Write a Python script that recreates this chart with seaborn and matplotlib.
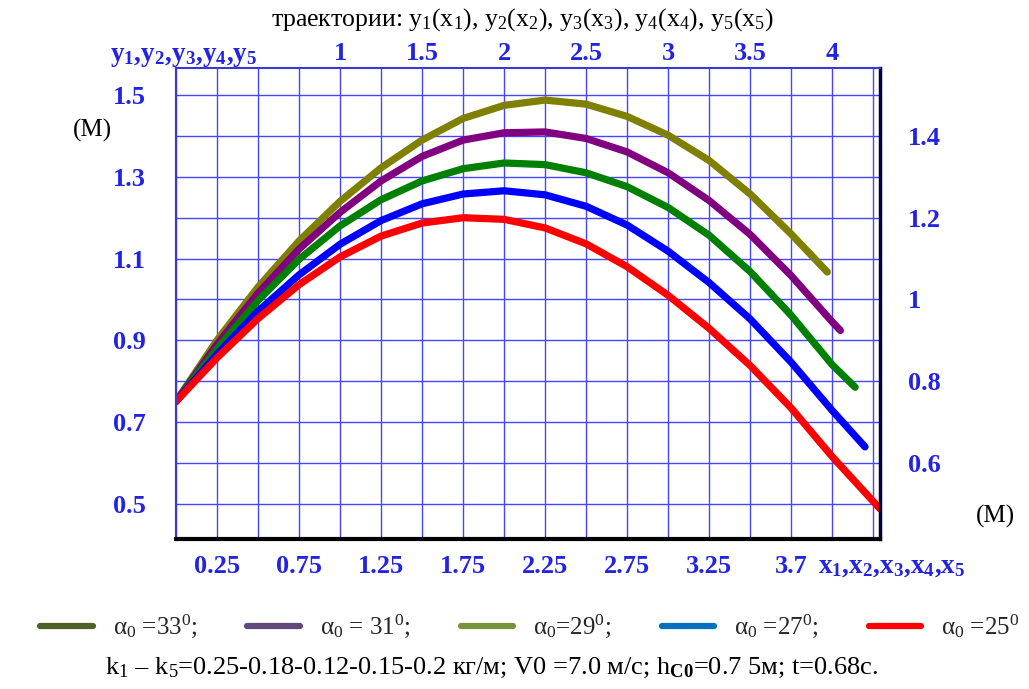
import numpy as np
import pandas as pd
import matplotlib
matplotlib.use('Agg')
import matplotlib.pyplot as plt
import seaborn as sns
from matplotlib.lines import Line2D

# trajectories (x in m, y in m)
x_33 = [0, 0.25, 0.5, 0.75, 1.0, 1.25, 1.5, 1.75, 2.0, 2.25, 2.5, 2.75, 3.0, 3.25, 3.5, 3.75, 3.97]
y_33 = [0.75, 0.900, 1.030, 1.143, 1.240, 1.322, 1.390, 1.443, 1.475, 1.488, 1.478, 1.448, 1.402, 1.340, 1.258, 1.160, 1.067]

x_31 = [0, 0.25, 0.5, 0.75, 1.0, 1.25, 1.5, 1.75, 2.0, 2.25, 2.5, 2.75, 3.0, 3.25, 3.5, 3.75, 4.0, 4.05]
y_31 = [0.75, 0.89, 1.015, 1.123, 1.213, 1.290, 1.350, 1.390, 1.408, 1.410, 1.394, 1.361, 1.310, 1.242, 1.159, 1.058, 0.945, 0.924]

x_29 = [0, 0.25, 0.5, 0.75, 1.0, 1.25, 1.5, 1.75, 2.0, 2.25, 2.5, 2.75, 3.0, 3.25, 3.5, 3.75, 4.0, 4.14]
y_29 = [0.75, 0.879, 0.997, 1.098, 1.180, 1.244, 1.290, 1.320, 1.334, 1.330, 1.310, 1.276, 1.225, 1.157, 1.068, 0.961, 0.840, 0.785]

x_27 = [0, 0.25, 0.5, 0.75, 1.0, 1.25, 1.5, 1.75, 2.0, 2.25, 2.5, 2.75, 3.0, 3.25, 3.5, 3.75, 4.0, 4.2]
y_27 = [0.75, 0.866, 0.971, 1.060, 1.135, 1.193, 1.234, 1.258, 1.266, 1.256, 1.228, 1.182, 1.118, 1.041, 0.952, 0.846, 0.728, 0.639]

x_25 = [0, 0.25, 0.5, 0.75, 1.0, 1.25, 1.5, 1.75, 2.0, 2.25, 2.5, 2.75, 3.0, 3.25, 3.5, 3.75, 4.0, 4.29]
y_25 = [0.75, 0.857, 0.953, 1.036, 1.104, 1.155, 1.187, 1.200, 1.196, 1.175, 1.136, 1.080, 1.010, 0.929, 0.838, 0.734, 0.615, 0.488]

series_names = ['33', '31', '29', '27', '25']
curve_colors = ['#808000', '#800080', '#008000', '#0000ff', '#ff0000']
legend_colors = ['#4f6228', '#604a7b', '#77933c', '#0070c0', '#ff0000']
legend_labels = ['α$_0$ =33$^0$;', 'α$_0$ = 31$^0$;', 'α$_0$=29$^0$;', 'α$_0$ =27$^0$;', 'α$_0$ =25$^0$']

bottom_ticks = [0.25, 0.75, 1.25, 1.75, 2.25, 2.75, 3.25, 3.75]
bottom_labels = ['0.25', '0.75', '1.25', '1.75', '2.25', '2.75', '3.25', '3.7']
top_ticks = [1, 1.5, 2, 2.5, 3, 3.5, 4]
top_labels = ['1', '1.5', '2', '2.5', '3', '3.5', '4']
left_ticks = [0.5, 0.7, 0.9, 1.1, 1.3, 1.5]
left_labels = ['0.5', '0.7', '0.9', '1.1', '1.3', '1.5']
right_ticks = [0.6, 0.8, 1.0, 1.2, 1.4]
right_labels = ['0.6', '0.8', '1', '1.2', '1.4']

frames = []
for name, xs, ys in zip(series_names, [x_33, x_31, x_29, x_27, x_25], [y_33, y_31, y_29, y_27, y_25]):
    frames.append(pd.DataFrame({'x': xs, 'y': ys, 'alpha': name}))
df = pd.concat(frames, ignore_index=True)

sns.set_theme(style='white')
plt.rcParams['font.family'] = ['Liberation Serif', 'DejaVu Serif']
plt.rcParams['mathtext.fontset'] = 'custom'
plt.rcParams['mathtext.rm'] = 'Liberation Serif'
plt.rcParams['mathtext.it'] = 'Liberation Serif'
plt.rcParams['mathtext.bf'] = 'Liberation Serif:bold'

blue_txt = '#2323e6'
grid_col = '#4646ff'

fig, ax = plt.subplots(figsize=(10.29, 6.89), dpi=100)
fig.subplots_adjust(left=0.171, right=0.855, top=0.901, bottom=0.218)

sns.lineplot(data=df, x='x', y='y', hue='alpha', palette=dict(zip(series_names, curve_colors)),
             hue_order=series_names, estimator=None, sort=False, linewidth=5.2,
             legend=False, ax=ax, solid_capstyle='round', solid_joinstyle='round')

ax.set_xlim(0, 4.29)
ax.set_ylim(0.414, 1.566)
ax.set_xlabel('')
ax.set_ylabel('')

# grid every 0.25 in x and 0.1 in y
ax.set_xticks(bottom_ticks)
ax.set_xticklabels(bottom_labels)
ax.set_xticks(np.arange(0, 4.3, 0.25), minor=True)
ax.set_yticks(left_ticks)
ax.set_yticklabels(left_labels)
ax.set_yticks(np.arange(0.5, 1.55, 0.1), minor=True)
ax.grid(which='both', color=grid_col, linewidth=1.0)
ax.tick_params(axis='both', which='both', length=0, colors=blue_txt, labelsize=19)
ax.tick_params(axis='x', pad=12)
ax.tick_params(axis='y', pad=22)
for lab in ax.get_xticklabels() + ax.get_yticklabels():
    lab.set_fontweight('bold')

ax.spines['left'].set_color('#3a3ad0')
ax.spines['left'].set_linewidth(1.5)
ax.spines['top'].set_color('#3a3ad0')
ax.spines['top'].set_linewidth(1.5)
ax.spines['right'].set_color('#000040')
ax.spines['right'].set_linewidth(2.5)
ax.spines['bottom'].set_color('black')
ax.spines['bottom'].set_linewidth(3)

axr = ax.twinx()
axr.set_ylim(ax.get_ylim())
axr.set_yticks(right_ticks)
axr.set_yticklabels(right_labels, fontweight='bold')
axr.tick_params(axis='y', length=0, colors=blue_txt, labelsize=19, pad=20)
axr.grid(False)

axt = ax.twiny()
axt.set_xlim(ax.get_xlim())
axt.set_xticks(top_ticks)
axt.set_xticklabels(top_labels, fontweight='bold')
axt.tick_params(axis='x', length=0, colors=blue_txt, labelsize=19, pad=2)
axt.grid(False)
for a in (axr, axt):
    for s in a.spines.values():
        s.set_visible(False)

fig.text(0.107, 0.918, r'$\mathbf{y_1{,}y_2{,}y_3{,}y_4{,}y_5}$', color=blue_txt, fontsize=19.5, ha='left', va='center')
fig.text(0.795, 0.178, r'$\mathbf{x_1{,}x_2{,}x_3{,}x_4{,}x_5}$', color=blue_txt, fontsize=19.5, ha='left', va='center')
fig.text(0.090, 0.810, '(M)', fontsize=18, ha='center', va='center', color='black')
fig.text(0.967, 0.250, '(M)', fontsize=18, ha='center', va='center', color='black')
fig.text(0.508, 0.972, 'траектории: y$_1$(x$_1$), y$_2$(x$_2$), y$_3$(x$_3$), y$_4$(x$_4$), y$_5$(x$_5$)',
         fontsize=18.5, ha='center', va='center', color='black')

handles = [Line2D([0], [0], color=c, linewidth=4.5) for c in legend_colors]
fig.legend(handles, legend_labels, loc='center', bbox_to_anchor=(0.515, 0.091), ncol=5, frameon=False,
           fontsize=18, handlelength=2.1, handletextpad=0.8, columnspacing=2.0,
           borderpad=0, borderaxespad=0)

fig.text(0.478, 0.030, 'k$_1$ – k$_5$=0.25-0.18-0.12-0.15-0.2 кг/м; V0 =7.0 м/с; h$_{\\mathbf{C0}}$=0.7 5м; t=0.68с.',
         fontsize=19, ha='center', va='center', color='black')

plt.savefig('out.png', dpi=100)
